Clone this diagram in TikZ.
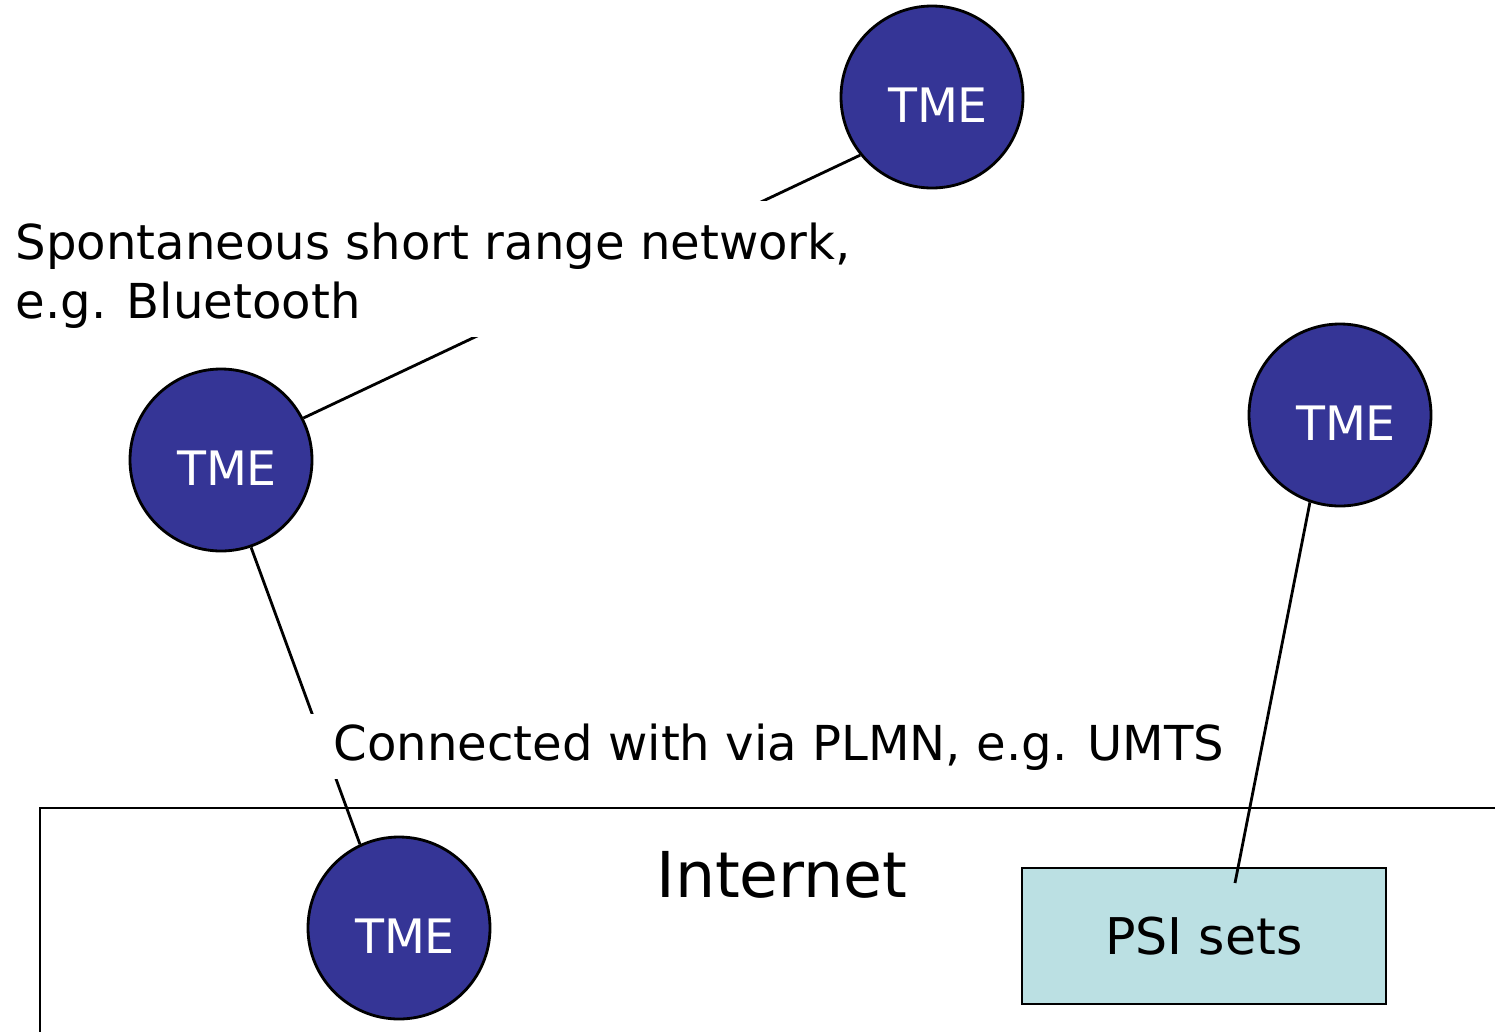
\documentclass[tikz,border=0pt]{standalone}
\usepackage{fontspec}
\setmainfont{DejaVu Sans}
\usetikzlibrary{positioning}
\definecolor{tmeblue}{RGB}{53,53,150}
\definecolor{psicyan}{RGB}{187,224,227}
\tikzset{
  tme/.style={circle,draw=black,line width=0.8pt,fill=tmeblue,text=white,
    minimum size=1.82cm,inner sep=0pt,text height=14.4pt,text depth=0pt,
    execute at begin node=\hspace{0.12cm},
    font=\fontsize{13.5}{16}\selectfont},
  psibox/.style={rectangle,draw=black,line width=0.8pt,fill=psicyan,
    minimum width=3.64cm,minimum height=1.36cm,font=\fontsize{14.4}{17}\selectfont},
  netlabel/.style={fill=white,inner xsep=0.25cm,inner ysep=0.09cm,
    font=\fontsize{13.7}{16.6}\selectfont},
  link/.style={line width=0.8pt}
}
\begin{document}
\begin{tikzpicture}
%
\useasboundingbox (0,0) rectangle (14.95cm,10.32cm);
%
\draw[link] (14.95,2.24) -- (0.40,2.24) -- (0.40,0);
\node[anchor=base,font=\fontsize{18}{22}\selectfont] (inet) at (7.82,1.35) {Internet};
\node[psibox] (psi) at (12.04,0.96) {PSI sets};
\coordinate (psiin) at (12.35,1.49);
%
\node[tme] (t0) at (9.32,9.35) {TME};
\node[tme] (t1) at (2.21,5.72) {TME};
\node[tme] (t2) at (13.40,6.17) {TME};
\node[tme] (t3) at (3.99,1.04) {TME};
%
\draw[link] (t1.27) -- (t0.219);
\draw[link] (t1.-71) -- (t3.115);
\draw[link] (psiin) -- (t2.251);
%
\node[netlabel,anchor=base west,align=left] (short) at (-0.10,7.14)
  {\rule{0pt}{0.5cm}Spontaneous short range network,\\e.g. Bluetooth};
\node[netlabel,anchor=base west] (plmn) at (3.08,2.72)
  {Connected with via PLMN, e.g. UMTS};
%
\end{tikzpicture}
\end{document}
